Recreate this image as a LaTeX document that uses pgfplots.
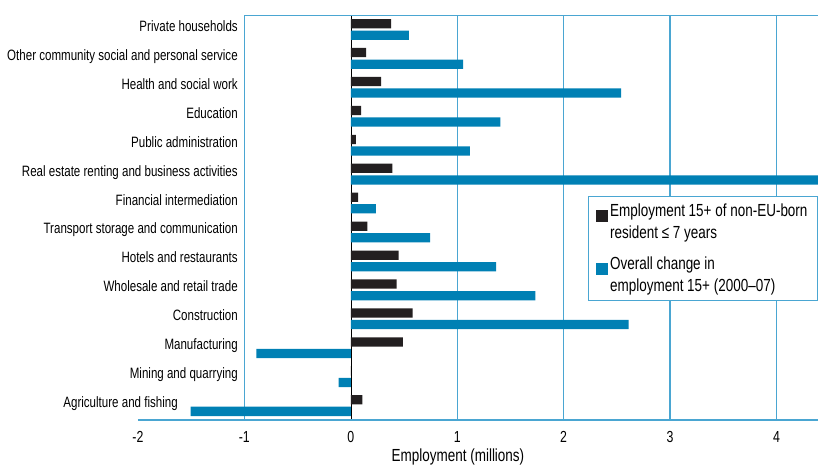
\documentclass[border=0pt]{standalone}
\usepackage{pgfplots}
\pgfplotsset{compat=1.18}
\usepackage{fontspec}
\setmainfont[FakeStretch=0.77]{Liberation Sans}
\definecolor{barblack}{HTML}{231F20}
\definecolor{barblue}{HTML}{0080B4}
\definecolor{gridblue}{HTML}{4AA6D2}

\begin{document}
\begin{tikzpicture}
\begin{axis}[
    name=ax,
    scale only axis,
    width=680pt, height=405pt,
    xmin=-2, xmax=4.39,
    ymin=-0.5, ymax=13.5,
    xbar, bar width=0.32,
    axis line style={draw=none},
    xtick={-2,...,4},
    xticklabels={-2,-1,0,1,2,3,4},
    xticklabel style={font=\fontsize{16}{18}\selectfont, yshift=-8pt},
    extra x ticks={-1,1,2,3,4},
    extra x tick labels={},
    extra x tick style={grid=major, major grid style={gridblue, line width=1.3pt}},
    major tick length=0pt,
    ytick={0,...,13},
    yticklabels={Agriculture and fishing\rule{60pt}{0pt},
        Mining and quarrying,
        Manufacturing,
        Construction,
        Wholesale and retail trade,
        Hotels and restaurants,
        Transport storage and communication,
        Financial intermediation,
        Real estate renting and business activities,
        Public administration,
        Education,
        Health and social work,
        Other community social and personal service,
        Private households},
    yticklabel style={font=\fontsize{15}{17}\selectfont, anchor=base east,
        inner sep=0pt, xshift=100pt, yshift=-2pt},
    xlabel={Employment (millions)},
    xlabel style={font=\fontsize{17.5}{20}\selectfont, yshift=0.5pt, xshift=-20pt},
    legend style={at={(rel axis cs:1,0.552)}, anchor=north east,
        draw=gridblue, line width=1pt, fill=white,
        font=\fontsize{17.5}{22}\selectfont,
        inner xsep=8pt, inner ysep=5pt, row sep=13pt,
        nodes={align=left}},
    legend cell align=left,
    legend image code/.code={\fill[#1] (0pt,0pt) rectangle (12pt,12pt);},
]
\draw[black, line width=0.5pt] (axis cs:0,-0.5) -- (axis cs:0,13.5);
\addplot[fill=barblack, draw=none, bar shift=0.2] coordinates {
    (0.11,0) (0,1) (0.49,2) (0.58,3) (0.43,4) (0.45,5) (0.157,6)
    (0.069,7) (0.39,8) (0.047,9) (0.097,10) (0.285,11) (0.145,12) (0.38,13)};
\addlegendentry{Employment 15+ of non-EU-born\\resident ≤ 7 years}
\addplot[fill=barblue, draw=none, bar shift=-0.2] coordinates {
    (-1.505,0) (-0.115,1) (-0.888,2) (2.61,3) (1.734,4) (1.365,5) (0.745,6)
    (0.235,7) (4.6,8) (1.12,9) (1.405,10) (2.54,11) (1.055,12) (0.545,13)};
\addlegendentry{Overall change in\\employment 15+ (2000--07)}
\draw[gridblue, line width=1.3pt] (rel axis cs:0,0) -- (rel axis cs:1,0);
\draw[gridblue, line width=1.3pt] (axis cs:-1,13.5) -- (rel axis cs:1,1);
\end{axis}
\pgfresetboundingbox
\path ([xshift=-137.9pt,yshift=-46.3pt]ax.south west) rectangle ([yshift=15pt]ax.north east);
\end{tikzpicture}
\end{document}
